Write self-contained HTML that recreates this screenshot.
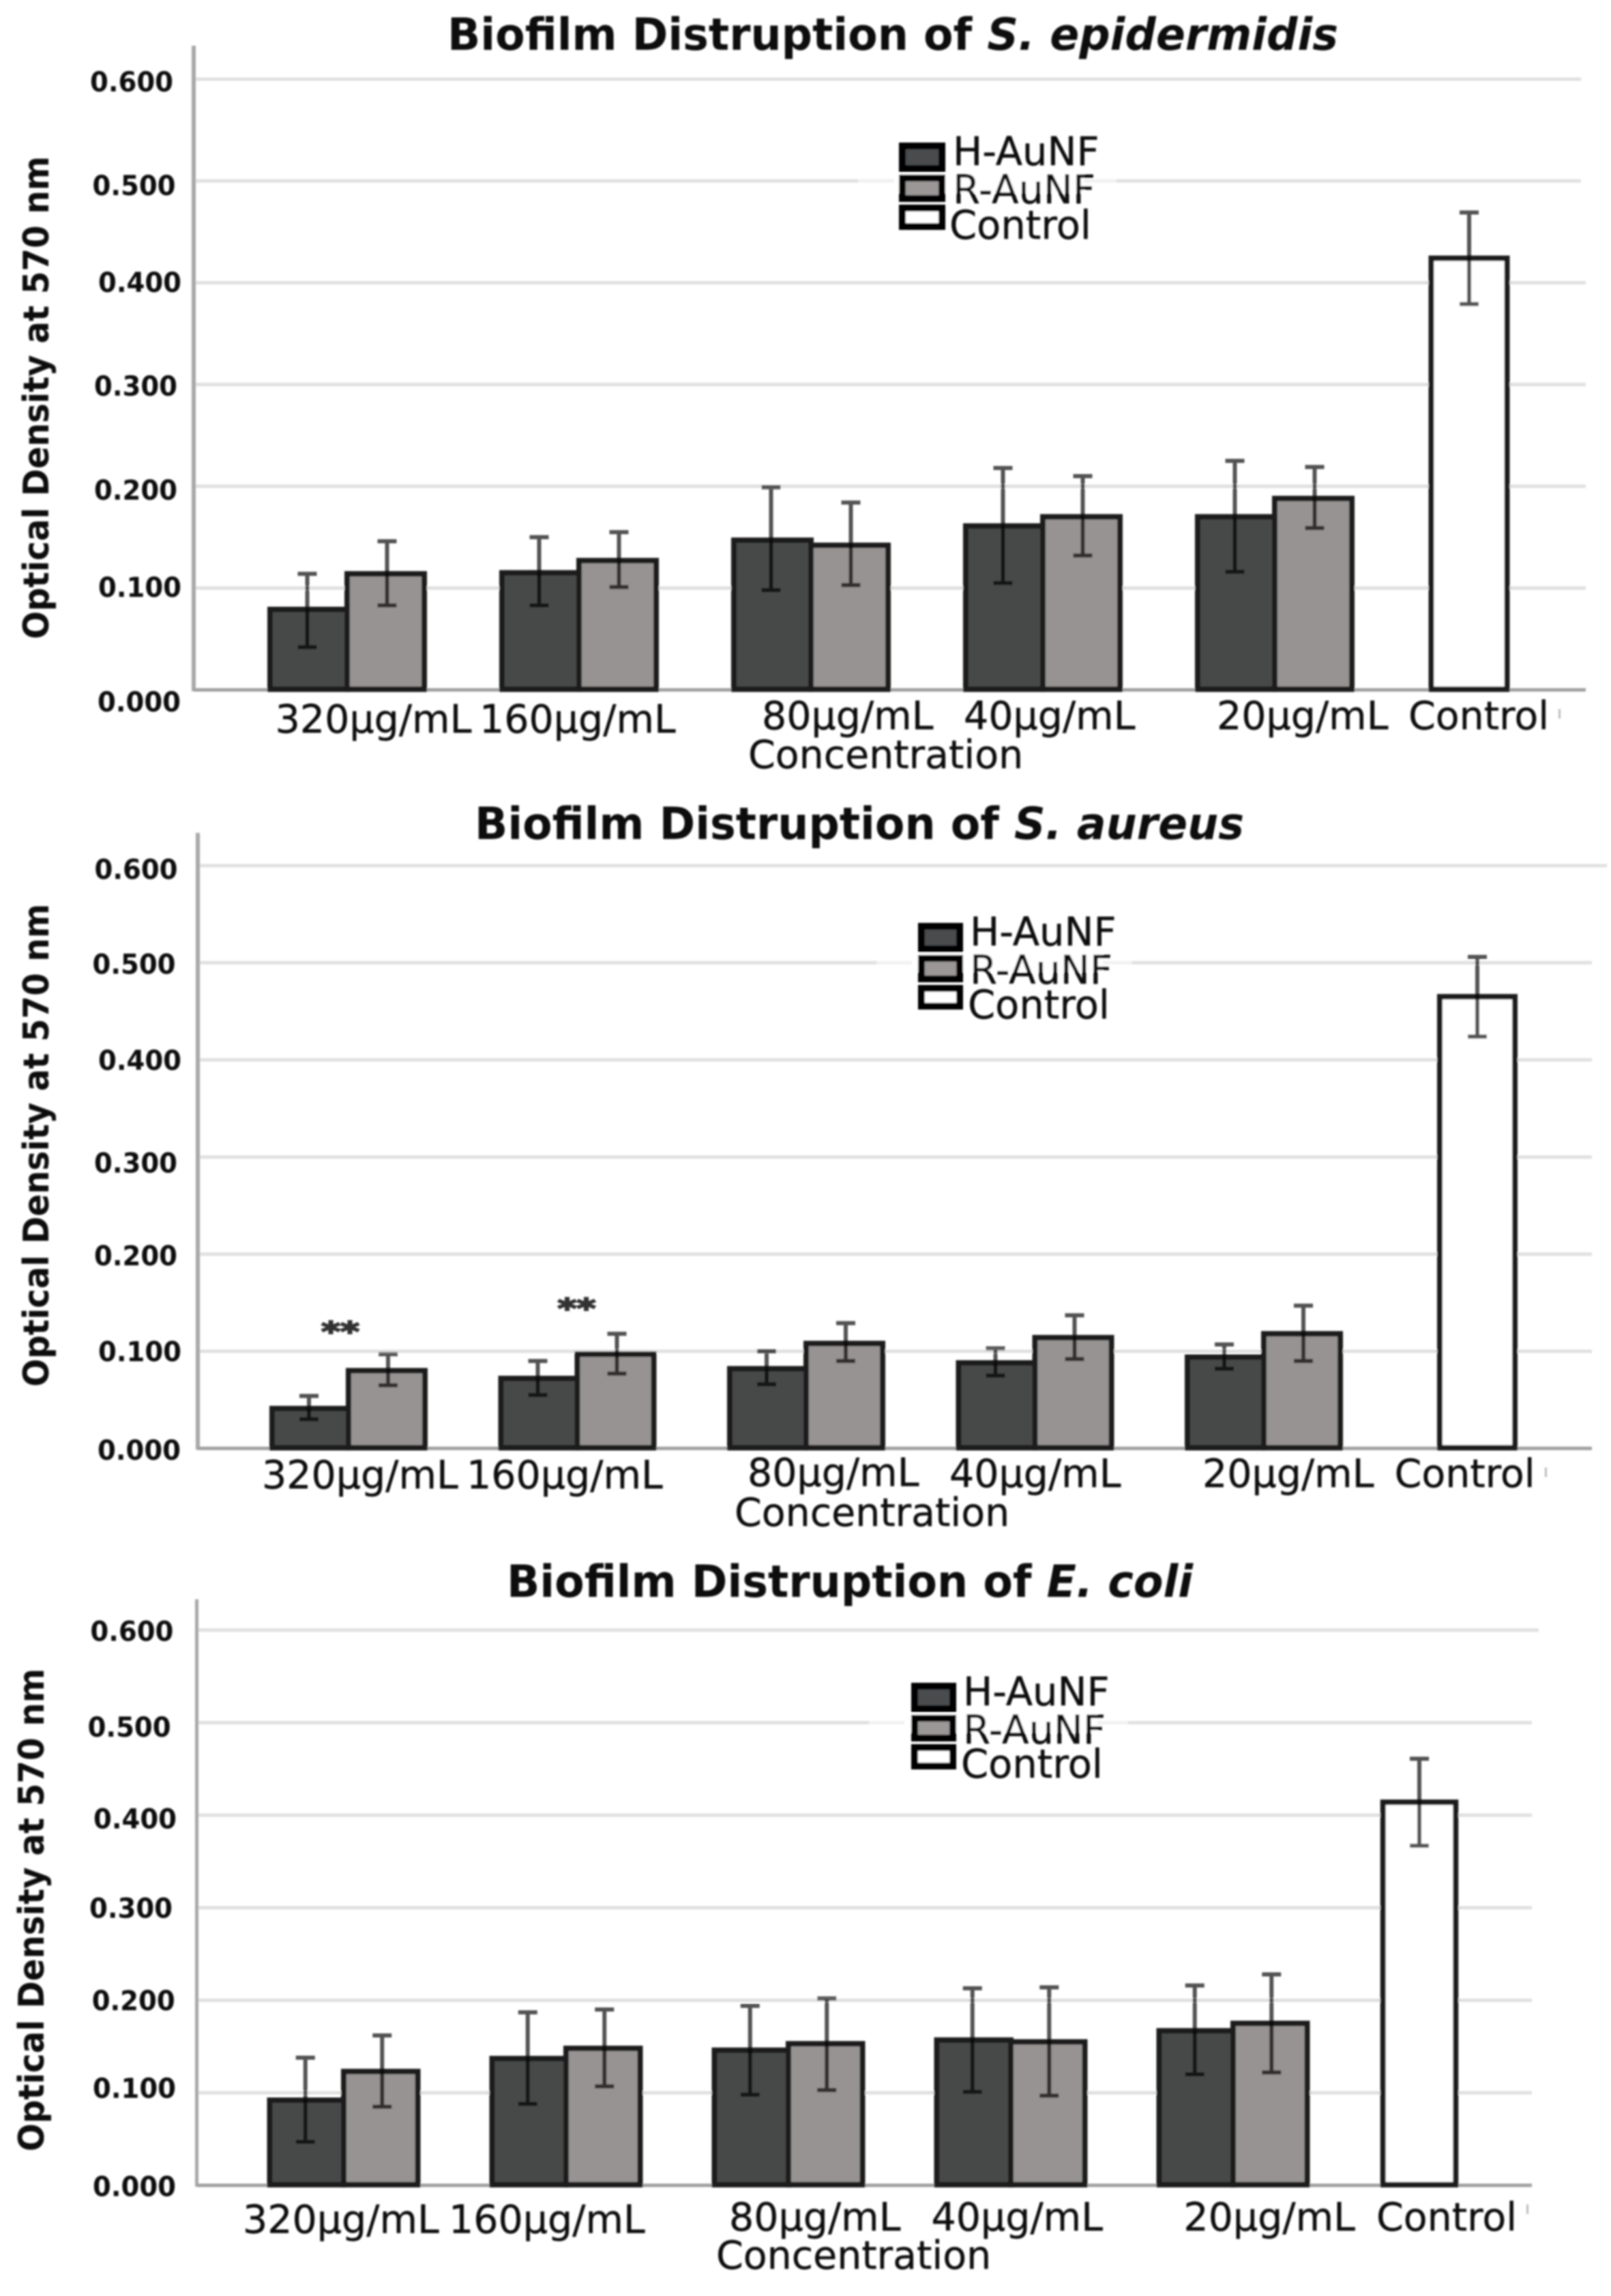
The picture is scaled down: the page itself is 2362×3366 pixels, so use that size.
<!DOCTYPE html>
<html lang="en">
<head>
<meta charset="utf-8">
<title>Biofilm Distruption Charts</title>
<style>
html,body{margin:0;padding:0;background:#fff;width:2362px;height:3366px;overflow:hidden}
svg{display:block}
text{font-family:"DejaVu Sans","Liberation Sans",sans-serif;fill:#0c0c0c}
.title,.ytitle,.tick{font-weight:bold}
.title{font-size:65px}
.ytitle{font-size:52px}
.tick{font-size:40px}
.cat{font-size:57px;stroke:#0c0c0c;stroke-width:.4px}
.leg{font-size:57.5px;stroke:#0c0c0c;stroke-width:.4px}
</style>
</head>
<body>
<svg id="figure" xmlns="http://www.w3.org/2000/svg" width="2362" height="3366" viewBox="0 0 2362 3366">
<defs>
<filter id="soft" filterUnits="userSpaceOnUse" x="0" y="0" width="2362" height="3366"><feGaussianBlur stdDeviation="1.2"/></filter>
</defs>
<rect width="2362" height="3366" fill="#fff"/>
<g filter="url(#soft)">

<g id="chart-epi">
  <g id="plot-epi"></g>
  <text class="title" x="656" y="73" textLength="1306" lengthAdjust="spacingAndGlyphs">Biofilm Distruption of <tspan font-style="italic">S. epidermidis</tspan></text>
  <text class="ytitle" x="71" y="583" text-anchor="middle" textLength="708" lengthAdjust="spacingAndGlyphs" transform="rotate(-90 71 583)">Optical Density at 570 nm</text>
  <text class="cat" x="1097" y="1126">Concentration</text>
  <g>
    <rect x="1258" y="262" width="379" height="14" fill="#fff" fill-opacity=".55"/>
    <rect x="1311" y="255" width="279" height="28" fill="#fff"/>
    <rect x="1323" y="214" width="58" height="33" fill="#4a4b4d" stroke="#000" stroke-width="10"/>
    <rect x="1323" y="261" width="58" height="30" fill="#9b9797" stroke="#000" stroke-width="10"/>
    <rect x="1323" y="305" width="58" height="27" fill="#fff" stroke="#000" stroke-width="10"/>
    <text class="leg" x="1397" y="242">H-AuNF</text>
    <text class="leg" x="1397" y="298">R-AuNF</text>
    <text class="leg" x="1392" y="350">Control</text>
  </g>
</g>

<g id="chart-aur">
  <g id="plot-aur"></g>
  <text class="title" x="696" y="1230" textLength="1128" lengthAdjust="spacingAndGlyphs">Biofilm Distruption of <tspan font-style="italic">S. aureus</tspan></text>
  <text class="ytitle" x="71" y="1679" text-anchor="middle" textLength="708" lengthAdjust="spacingAndGlyphs" transform="rotate(-90 71 1679)">Optical Density at 570 nm</text>
  <text class="cat" x="1077" y="2237">Concentration</text>
  <g>
    <rect x="1285" y="1404" width="375" height="14" fill="#fff" fill-opacity=".55"/>
    <rect x="1337" y="1397" width="280" height="28" fill="#fff"/>
    <rect x="1351" y="1358" width="56" height="33" fill="#4a4b4d" stroke="#000" stroke-width="10"/>
    <rect x="1351" y="1405" width="56" height="30" fill="#9b9797" stroke="#000" stroke-width="10"/>
    <rect x="1351" y="1449" width="56" height="26" fill="#fff" stroke="#000" stroke-width="10"/>
    <text class="leg" x="1422" y="1386">H-AuNF</text>
    <text class="leg" x="1422" y="1442">R-AuNF</text>
    <text class="leg" x="1419" y="1493">Control</text>
  </g>
</g>

<g id="chart-eco">
  <g id="plot-eco"></g>
  <text class="title" x="743" y="2341" textLength="1006" lengthAdjust="spacingAndGlyphs">Biofilm Distruption of <tspan font-style="italic">E. coli</tspan></text>
  <text class="ytitle" x="64" y="2800" text-anchor="middle" textLength="708" lengthAdjust="spacingAndGlyphs" transform="rotate(-90 64 2800)">Optical Density at 570 nm</text>
  <text class="cat" x="1050" y="3326">Concentration</text>
  <g>
    <rect x="1274" y="2519" width="380" height="14" fill="#fff" fill-opacity=".55"/>
    <rect x="1326" y="2512" width="283" height="28" fill="#fff"/>
    <rect x="1341" y="2472" width="56" height="33" fill="#4a4b4d" stroke="#000" stroke-width="10"/>
    <rect x="1341" y="2519" width="56" height="29" fill="#9b9797" stroke="#000" stroke-width="10"/>
    <rect x="1341" y="2562" width="56" height="27" fill="#fff" stroke="#000" stroke-width="10"/>
    <text class="leg" x="1412" y="2500">H-AuNF</text>
    <text class="leg" x="1412" y="2556">R-AuNF</text>
    <text class="leg" x="1409" y="2606">Control</text>
  </g>
</g>

</g>
</svg>

<script>
// Shared axis data
const categories = ['320μg/mL', '160μg/mL', '80μg/mL', '40μg/mL', '20μg/mL', 'Control'];
const yTickValues = [0, 0.1, 0.2, 0.3, 0.4, 0.5, 0.6];
const yTickLabels = ['0.000', '0.100', '0.200', '0.300', '0.400', '0.500', '0.600'];

// S. epidermidis values
const epiH = [0.079, 0.115, 0.147, 0.161, 0.170];
const epiHHigh = [0.114, 0.150, 0.199, 0.218, 0.225];
const epiHLow = [0.042, 0.083, 0.098, 0.105, 0.116];
const epiR = [0.114, 0.127, 0.142, 0.170, 0.188];
const epiRHigh = [0.146, 0.155, 0.184, 0.210, 0.219];
const epiRLow = [0.083, 0.101, 0.103, 0.132, 0.159];
const epiControl = 0.424;
const epiControlHigh = 0.469;
const epiControlLow = 0.379;

// S. aureus values
const aurH = [0.041, 0.072, 0.082, 0.088, 0.094];
const aurHHigh = [0.054, 0.090, 0.100, 0.103, 0.107];
const aurHLow = [0.030, 0.055, 0.066, 0.075, 0.082];
const aurR = [0.080, 0.097, 0.108, 0.114, 0.118];
const aurRHigh = [0.097, 0.118, 0.129, 0.137, 0.147];
const aurRLow = [0.065, 0.077, 0.090, 0.092, 0.090];
const aurControl = 0.465;
const aurControlHigh = 0.506;
const aurControlLow = 0.424;
const aurSignificance = [0.123, 0.147];

// E. coli values
const ecoH = [0.092, 0.137, 0.146, 0.157, 0.167];
const ecoHHigh = [0.138, 0.187, 0.194, 0.213, 0.216];
const ecoHLow = [0.047, 0.088, 0.098, 0.101, 0.120];
const ecoR = [0.123, 0.148, 0.153, 0.155, 0.175];
const ecoRHigh = [0.162, 0.190, 0.202, 0.214, 0.228];
const ecoRLow = [0.085, 0.107, 0.103, 0.097, 0.122];
const ecoControl = 0.414;
const ecoControlHigh = 0.461;
const ecoControlLow = 0.367;

const SVGNS = 'http://www.w3.org/2000/svg';

function mk(parent, tag, attrs, txt) {
  const el = document.createElementNS(SVGNS, tag);
  for (const k in attrs) el.setAttribute(k, attrs[k]);
  if (txt !== undefined) el.textContent = txt;
  parent.appendChild(el);
  return el;
}

function drawChart(c) {
  const root = document.getElementById(c.id);
  const y = v => c.base - v * (c.base - c.y06) / 0.6;
  const center = i => c.firstCenter + i * c.step;

  // gridlines
  yTickValues.forEach((v, i) => {
    if (v === 0) return;
    const end = v >= 0.5 ? c.gridEndTop : c.gridEnd;
    const line = mk(root, 'line', {x1: c.axisX, x2: v === 0.6 ? c.grid06End : end, y1: y(v), y2: y(v), stroke: '#e0e0e0', 'stroke-width': 5});
    
    
  });

  // axes
  const yAxis = mk(root, 'line', {x1: c.axisX, x2: c.axisX, y1: c.axisTop, y2: c.base + 2, stroke: '#a8a8a8', 'stroke-width': c.axisW});
  
  

  // baseline (behind the bars)
  const xAxis = mk(root, 'line', {x1: c.axisX, x2: c.gridEnd, y1: c.base, y2: c.base, stroke: '#a0a0a0', 'stroke-width': 5});
  
  

  // y tick labels
  yTickValues.forEach((v, i) => {
    const t = mk(root, 'text', {'class': 'tick', x: c.tickLeft[i], y: y(v) + c.tickNudge[i] + 14.6, textLength: 122, lengthAdjust: 'spacingAndGlyphs'}, yTickLabels[i]);
    
    
  });

  // category labels
  categories.forEach((label, i) => {
    const t = mk(root, 'text', {'class': 'cat', x: c.catX[i] - 2, y: c.catY[i]}, label);
    
    
  });

  // bars
  const sw = 8;
  const bar = (left, right, v, fill, name) => {
    const r = mk(root, 'rect', {x: left + sw / 2, y: y(v), width: right - left - sw, height: y(0) - y(v) - 1, fill: fill, stroke: '#1a1a1a', 'stroke-width': sw});
    
    
  };
  const err = (x, lo, hi, name) => {
    const g = mk(root, 'path', {d: 'M' + x + ' ' + y(hi) + 'V' + y(lo) + 'M' + (x - 14) + ' ' + y(hi) + 'H' + (x + 14) + 'M' + (x - 14) + ' ' + y(lo) + 'H' + (x + 14), fill: 'none', stroke: 'rgba(0,0,0,0.68)', 'stroke-width': 6});
    
    
  };

  c.h.forEach((v, i) => {
    bar(center(i) - c.barW - 2, center(i) + sw / 2, v, '#47484a', 'bar-h-aunf-' + i);
  });
  c.r.forEach((v, i) => {
    bar(center(i) - sw / 2, center(i) + c.barW + 2, v, '#969392', 'bar-r-aunf-' + i);
  });
  bar(c.controlCenter - c.barW / 2 - 2, c.controlCenter + c.barW / 2 + 2, c.control, '#ffffff', 'bar-control');

  c.h.forEach((v, i) => {
    err(center(i) - c.barW / 2 - 1, c.hLow[i], c.hHigh[i], 'error-bar-h-aunf-' + i);
  });
  c.r.forEach((v, i) => {
    err(center(i) + c.barW / 2 + 1, c.rLow[i], c.rHigh[i], 'error-bar-r-aunf-' + i);
  });
  err(c.controlCenter, c.controlLow, c.controlHigh, 'error-bar-control');

  // stray end-of-axis mark
  const mark = mk(root, 'rect', {x: c.markX, y: c.base + 28, width: 3, height: 14, fill: '#bbb'});
  
  

  // significance stars
  (c.stars || []).forEach((v, i) => {
    const s = mk(root, 'text', {x: center(i) + c.starNudge[i], y: y(v) + 18, 'text-anchor': 'middle', 'font-weight': 'bold', 'font-size': 40, textLength: 56, lengthAdjust: 'spacingAndGlyphs', style: 'fill:#333;stroke:#333;stroke-width:2px'}, '**');
    
    
  });
}

drawChart({
  id: 'plot-epi', base: 1011.4, y06: 116, axisX: 284, axisTop: 67, axisW: 6,
  gridEnd: 2325, gridEndTop: 2318, grid06End: 2318,
  firstCenter: 509, step: 340, barW: 115, controlCenter: 2154, markX: 2285,
  h: epiH, hHigh: epiHHigh, hLow: epiHLow, r: epiR, rHigh: epiRHigh, rLow: epiRLow,
  control: epiControl, controlHigh: epiControlHigh, controlLow: epiControlLow,
  tickLeft: [143, 144, 138, 138, 144, 135.5, 132],
  tickNudge: [17, -2, 5, 1.5, -1, 6, 3.6],
  catX: [405.6, 705, 1119, 1415, 1786, 2067],
  catY: [1074, 1074, 1069, 1069, 1069, 1069]
});

drawChart({
  id: 'plot-aur', base: 2123.4, y06: 1269, axisX: 290, axisTop: 1221, axisW: 6,
  gridEnd: 2334, gridEndTop: 2334, grid06End: 2356,
  firstCenter: 511, step: 335.5, barW: 114, controlCenter: 2166, markX: 2265,
  h: aurH, hHigh: aurHHigh, hLow: aurHLow, r: aurR, rHigh: aurRHigh, rLow: aurRLow,
  control: aurControl, controlHigh: aurControlHigh, controlLow: aurControlLow,
  stars: aurSignificance, starNudge: [-12, -1],
  tickLeft: [143, 144, 138, 138, 144, 135.5, 138.5],
  tickNudge: [2, 0, 2, 8, 0, 1.5, 5],
  catX: [386, 686, 1098, 1394, 1765, 2046.6],
  catY: [2182, 2182, 2178.6, 2180, 2180, 2180]
});

drawChart({
  id: 'plot-eco', base: 3203.8, y06: 2389.8, axisX: 288.5, axisTop: 2344.6, axisW: 5,
  gridEnd: 2246, gridEndTop: 2246, grid06End: 2256,
  firstCenter: 504, step: 326, barW: 110.5, controlCenter: 2081, markX: 2238,
  h: ecoH, hHigh: ecoHHigh, hLow: ecoHLow, r: ecoR, rHigh: ecoRHigh, rLow: ecoRLow,
  control: ecoControl, controlHigh: ecoControlHigh, controlLow: ecoControlLow,
  tickLeft: [136, 136, 134.7, 131, 137, 128.6, 132.4],
  tickNudge: [1, -7, 0, 0, 5, 6, 1],
  catX: [358, 660, 1071, 1367.5, 1737.4, 2020],
  catY: [3273.6, 3273.6, 3270, 3270, 3270, 3270]
});
</script>
</body>
</html>
